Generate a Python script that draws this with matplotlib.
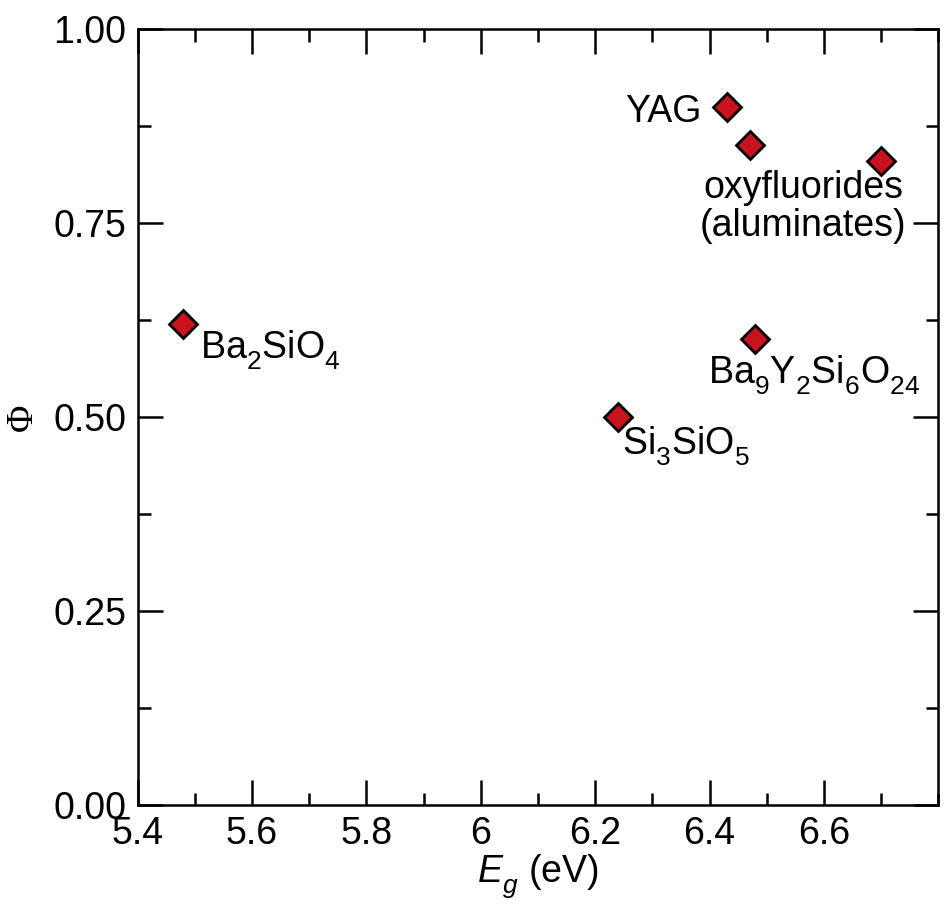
import matplotlib
matplotlib.use("Agg")
import matplotlib.pyplot as plt
from matplotlib.ticker import MultipleLocator, FixedLocator, FixedFormatter

plt.rcParams['font.family'] = ['Liberation Sans', 'DejaVu Sans']
plt.rcParams['mathtext.fontset'] = 'custom'
plt.rcParams['mathtext.rm'] = 'Liberation Sans'
plt.rcParams['mathtext.it'] = 'Liberation Sans:italic'
plt.rcParams['mathtext.bf'] = 'Liberation Sans:bold'

# drop chemical-formula subscripts a little further below the baseline
try:
    from matplotlib import _mathtext
    _mathtext.FontConstantsBase.sub1 = 0.55
    _mathtext.FontConstantsBase.sub2 = 0.6
except Exception:
    pass

# Band gap (eV) and quantum efficiency for each host
band_gap = [5.48, 6.24, 6.43, 6.47, 6.48, 6.70]
phi = [0.62, 0.50, 0.90, 0.85, 0.60, 0.83]

x_ticks = [5.4, 5.6, 5.8, 6.0, 6.2, 6.4, 6.6]
x_tick_labels = ['5.4', '5.6', '5.8', '6', '6.2', '6.4', '6.6']
y_ticks = [0.0, 0.25, 0.50, 0.75, 1.00]
y_tick_labels = ['0.00', '0.25', '0.50', '0.75', '1.00']

# label text, index of the point, offset (points), horizontal alignment
annotations = [
    (r'Ba$_2$SiO$_4$', 0, (12, -25), 'left'),
    (r'Si$_3$SiO$_5$', 1, (3, -27), 'left'),
    ('YAG', 2, (-18, -11), 'right'),
    ('oxyfluorides', 5, (-56, -27), 'center'),
    ('(aluminates)', 5, (-56, -54), 'center'),
    (r'Ba$_9$Y$_2$Si$_6$O$_{24}$', 4, (-34, -32), 'left'),
]

FS = 27

fig = plt.figure(figsize=(9.51, 9.08), dpi=100)
ax = fig.add_axes([0.1448, 0.1134, 0.9866 - 0.1448, 0.968 - 0.1134])

ax.plot(band_gap, phi, linestyle='none', marker='D', markersize=14,
        markerfacecolor='#c8131f', markeredgecolor='black', markeredgewidth=2.0,
        zorder=3)

for text, idx, offset, ha in annotations:
    ax.annotate(text, (band_gap[idx], phi[idx]), xytext=offset,
                textcoords='offset points', ha=ha, va='baseline',
                fontsize=FS)

ax.set_xlim(5.4, 6.8)
ax.set_ylim(0.0, 1.0)
ax.xaxis.set_major_locator(FixedLocator(x_ticks))
ax.xaxis.set_major_formatter(FixedFormatter(x_tick_labels))
ax.xaxis.set_minor_locator(MultipleLocator(0.1))
ax.yaxis.set_major_locator(FixedLocator(y_ticks))
ax.yaxis.set_major_formatter(FixedFormatter(y_tick_labels))
ax.yaxis.set_minor_locator(MultipleLocator(0.125))

ax.tick_params(which='both', direction='in', top=True, right=True,
               width=1.8, labelsize=FS)
ax.tick_params(which='major', length=18)
ax.tick_params(which='minor', length=9)
ax.tick_params(axis='x', which='major', pad=8)
ax.tick_params(axis='y', which='major', pad=8)
for s in ax.spines.values():
    s.set_linewidth(1.8)

ax.set_xlabel(r'$E_g$ (eV)', fontsize=FS, labelpad=0)
ax.set_ylabel('Φ', fontsize=FS, family=['Liberation Serif', 'DejaVu Serif'],
              labelpad=10)

fig.savefig('out.png', dpi=100)
